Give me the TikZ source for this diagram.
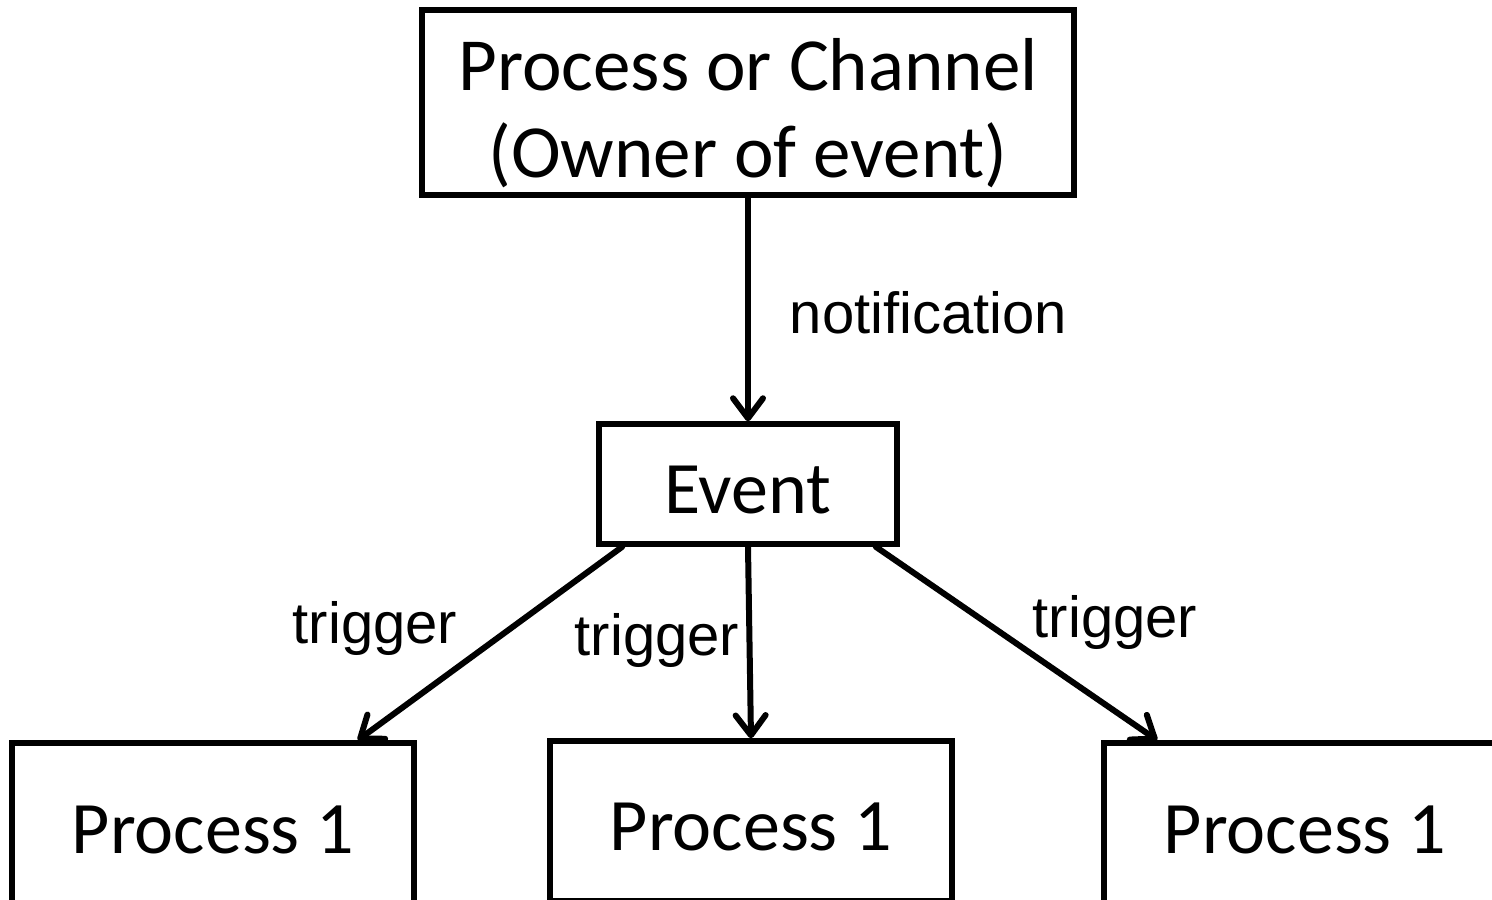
\documentclass[tikz,border=0pt]{standalone}
\usepackage{fontspec}
\newfontfamily\boxfont{Carlito}
\newfontfamily\labfont{Liberation Sans}
\usetikzlibrary{arrows.meta}
\tikzset{
  x=1pt, y=-1pt,
  boxnode/.style={draw=black, line width=5.5pt, fill=white, inner sep=0pt, font=\boxfont\fontsize{74}{86}\selectfont, text height=58pt, text depth=0pt},
  boxtext/.style={inner sep=0pt, font=\boxfont\fontsize{75}{87}\selectfont, align=center},
  lab/.style={inner sep=0pt, font=\labfont\fontsize{58}{64}\selectfont, anchor=base},
  conn/.style={line width=6pt, line cap=round, -{Straight Barb[length=20pt, width=30pt, line cap=round, line join=round]}}
}
\begin{document}
\begin{tikzpicture}
\useasboundingbox (0,0) rectangle (1492,900);
\clip (0,0) rectangle (1492,900);
\node[boxnode, minimum width=652pt, minimum height=185pt] (owner) at (748,102.5) {};
\node[boxtext, anchor=base] (ownertext) at (748,177) {Process or Channel\\(Owner of event)};
\node[boxnode, minimum width=298pt, minimum height=120pt] (event) at (748,484) {Event};
\node[boxnode, minimum width=402pt, minimum height=162pt] (p1) at (213,824) {Process 1};
\node[boxnode, minimum width=402pt, minimum height=160pt] (p2) at (751,821) {Process 1};
\node[boxnode, minimum width=402pt, minimum height=162pt] (p3) at (1305,824) {Process 1};
\draw[conn] (owner.south) -- (event.north);
\draw[conn] ([xshift=26pt]event.south west) -- ([xshift=-59pt]p1.north east);
\draw[conn] (event.south) -- (p2.north);
\draw[conn] ([xshift=-24pt]event.south east) -- ([xshift=56pt]p3.north west);
\node[lab] (lnotif) at (928.5,333) {notification};
\node[lab] (ltrig1) at (375,643) {trigger};
\node[lab] (ltrig2) at (657,655) {trigger};
\node[lab] (ltrig3) at (1115,637) {trigger};
\end{tikzpicture}
\end{document}
